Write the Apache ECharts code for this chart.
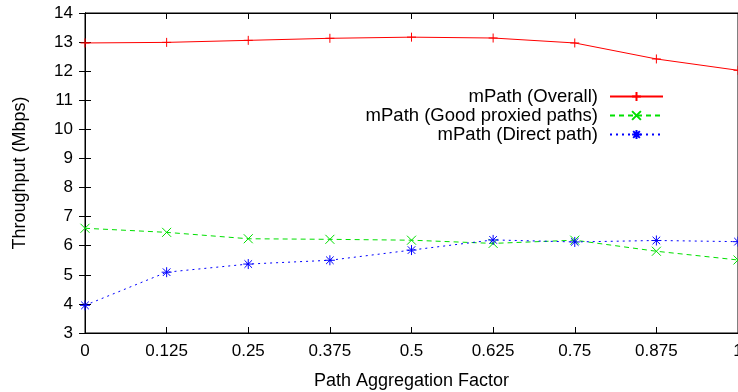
<!DOCTYPE html>
<html>
<head>
<meta charset="utf-8">
<script src="https://cdn.jsdelivr.net/npm/echarts@6/dist/echarts.min.js"></script>
<style>
  html, body { margin: 0; padding: 0; background: #ffffff; }
  #chart { width: 738px; height: 392px; }
</style>
</head>
<body>
<div id="chart"></div>
<script>
// Path aggregation factor (x) and measured throughput in Mbps per series
const factors = [0, 0.125, 0.25, 0.375, 0.5, 0.625, 0.75, 0.875, 1];
const overall = [12.97, 12.99, 13.06, 13.13, 13.17, 13.14, 12.97, 12.42, 12.03];
const goodProxied = [6.60, 6.46, 6.24, 6.22, 6.19, 6.08, 6.19, 5.81, 5.51];
const directPath = [3.95, 5.09, 5.37, 5.50, 5.85, 6.20, 6.13, 6.18, 6.14];

const seriesNames = ['mPath (Overall)', 'mPath (Good proxied paths)', 'mPath (Direct path)'];

const FONT = '"Liberation Sans", Arial, Helvetica, sans-serif';

// Stroked marker shapes: plus, cross, asterisk
const PLUS = 'path://M0,5L10,5M5,0L5,10';
const CROSS = 'path://M0,0L10,10M10,0L0,10';
const STAR = 'path://M0,5L10,5M5,0L5,10M1.2,1.2L8.8,8.8M8.8,1.2L1.2,8.8';

function pairs(values) {
  return factors.map((x, i) => [x, values[i]]);
}

function makeSeries(name, values, color, dash, symbol, size) {
  return {
    name: name,
    type: 'line',
    data: pairs(values),
    symbol: symbol,
    symbolSize: size,
    showSymbol: true,
    clip: false,
    lineStyle: { color: color, width: 1, type: dash },
    itemStyle: { color: color, borderColor: color, borderWidth: 1 },
    emphasis: { disabled: true },
    animation: false
  };
}

const chart = echarts.init(document.getElementById('chart'), null, { renderer: 'canvas' });

const tickStyle = { show: true, inside: true, length: 6, lineStyle: { color: '#000', width: 1 } };
const labelStyle = { fontFamily: FONT, fontSize: 17, color: '#000' };

chart.setOption({
  backgroundColor: '#ffffff',
  animation: false,
  grid: {
    left: 85, right: 0, top: 13, bottom: 59,
    outerBoundsMode: 'none',
    containLabel: false,
    show: true, borderColor: '#000', borderWidth: 1, backgroundColor: 'transparent'
  },
  legend: {
    orient: 'vertical',
    align: 'right',
    right: 69,
    top: 82,
    itemWidth: 53,
    itemHeight: 11,
    itemGap: 0,
    selectedMode: false,
    data: seriesNames,
    textStyle: { fontFamily: FONT, fontSize: 18.5, color: '#000', lineHeight: 18.5, padding: [0, 7, 0, 0] }
  },
  xAxis: [
    {
      type: 'value', min: 0, max: 1, interval: 0.125,
      name: 'Path Aggregation Factor', nameLocation: 'middle', nameGap: 39,
      nameTextStyle: { fontFamily: FONT, fontSize: 18, color: '#000' },
      axisLine: { show: true, onZero: false, lineStyle: { color: '#000', width: 1 } },
      axisTick: tickStyle,
      axisLabel: Object.assign({ margin: 10, formatter: v => String(v) }, labelStyle),
      splitLine: { show: false }
    },
    {
      type: 'value', min: 0, max: 1, interval: 0.125, position: 'top',
      axisLine: { show: true, lineStyle: { color: '#000', width: 1 } },
      axisTick: tickStyle, axisLabel: { show: false }, splitLine: { show: false }
    }
  ],
  yAxis: [
    {
      type: 'value', min: 3, max: 14, interval: 1,
      name: 'Throughput (Mbps)', nameLocation: 'middle', nameGap: 56,
      nameTextStyle: { fontFamily: FONT, fontSize: 18, color: '#000' },
      axisLine: { show: true, onZero: false, lineStyle: { color: '#000', width: 1 } },
      axisTick: tickStyle,
      axisLabel: Object.assign({ margin: 12 }, labelStyle),
      splitLine: { show: false }
    },
    {
      type: 'value', min: 3, max: 14, interval: 1, position: 'right',
      axisLine: { show: true, lineStyle: { color: '#000', width: 1 } },
      axisTick: tickStyle, axisLabel: { show: false }, splitLine: { show: false }
    }
  ],
  series: [
    makeSeries(seriesNames[0], overall, '#ff0000', 'solid', PLUS, 9),
    makeSeries(seriesNames[1], goodProxied, '#00e000', [5, 4], CROSS, 9),
    makeSeries(seriesNames[2], directPath, '#0000ff', [2, 4], STAR, 10)
  ]
});
</script>
</body>
</html>
